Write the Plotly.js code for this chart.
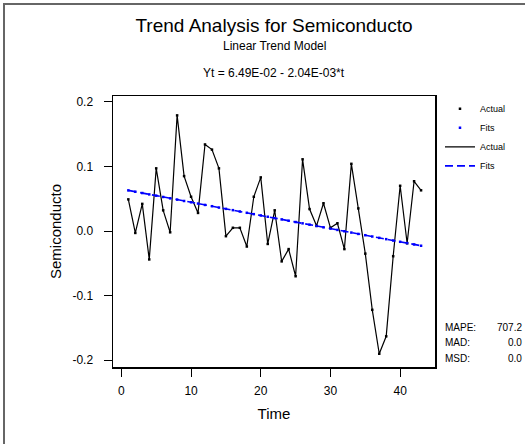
<!DOCTYPE html>
<html>
<head>
<meta charset="utf-8">
<script src="https://cdn.plot.ly/plotly-3.0.1.min.js"></script>
<style>
html,body{margin:0;padding:0;background:#fff;overflow:hidden;}
#chart{width:525px;height:444px;position:absolute;left:0;top:0;}
#frame{position:absolute;left:3px;top:3px;width:700px;height:700px;border-left:2px solid #666;border-top:2px solid #666;pointer-events:none;}
</style>
</head>
<body>
<div id="chart"></div>
<div id="frame"></div>
<script>
var timeIdx = [1,2,3,4,5,6,7,8,9,10,11,12,13,14,15,16,17,18,19,20,21,22,23,24,25,26,27,28,29,30,31,32,33,34,35,36,37,38,39,40,41,42,43];
var actual = [0.049,-0.003,0.042,-0.044,0.097,0.032,-0.002,0.179,0.085,0.053,0.028,0.134,0.126,0.097,-0.008,0.005,0.005,-0.024,0.053,0.083,-0.020,0.032,-0.047,-0.028,-0.070,0.111,0.034,0.008,0.043,0.005,0.012,-0.028,0.104,0.035,-0.035,-0.122,-0.190,-0.163,-0.039,0.070,-0.019,0.077,0.063];
var fits = [0.0629,0.0608,0.0588,0.0567,0.0547,0.0527,0.0506,0.0486,0.0465,0.0445,0.0425,0.0404,0.0384,0.0363,0.0343,0.0323,0.0302,0.0282,0.0261,0.0241,0.0221,0.0200,0.0180,0.0159,0.0139,0.0119,0.0098,0.0078,0.0057,0.0037,0.0017,-0.0004,-0.0024,-0.0045,-0.0065,-0.0085,-0.0106,-0.0126,-0.0147,-0.0167,-0.0187,-0.0208,-0.0228];
var xTicks = [0,10,20,30,40];
var yTicks = [-0.2,-0.1,0.0,0.1,0.2];
var yTickText = ['-0.2','-0.1','0.0','0.1','0.2'];
var statLabels = ['MAPE:','MAD:','MSD:'];
var statValues = ['707.2','0.0','0.0'];

var FONT = '"Liberation Sans Narrow","Arial Narrow","Liberation Sans",Arial,sans-serif';

var traces = [
  {x: timeIdx, y: actual, type:'scatter', mode:'lines', name:'Actual', legendrank:3,
   line:{color:'#000', width:1.2}},
  {x: timeIdx, y: fits, type:'scatter', mode:'lines', name:'Fits', legendrank:4,
   line:{color:'#0000ff', width:1.6, dash:'8px,4px'}},
  {x: timeIdx, y: actual, type:'scatter', mode:'markers', name:'Actual', legendrank:1,
   marker:{color:'#000', size:2.5, symbol:'square'}, cliponaxis:false},
  {x: timeIdx, y: fits, type:'scatter', mode:'markers', name:'Fits', legendrank:2,
   marker:{color:'#0000ff', size:2.5, symbol:'square'}, cliponaxis:false}
];

var statAnn = [];
for (var i = 0; i < statLabels.length; i++) {
  var yy = [0.1476, 0.0886, 0.0332][i];
  statAnn.push({xref:'paper', yref:'paper', x:1.025, y:yy, xanchor:'left', yanchor:'middle',
    text: statLabels[i], showarrow:false, font:{family:FONT, size:10, color:'#000'}});
  statAnn.push({xref:'paper', yref:'paper', x:1.2764, y:yy, xanchor:'right', yanchor:'middle',
    text: statValues[i], showarrow:false, font:{family:FONT, size:10, color:'#000'}});
}

var layout = {
  width:525, height:444,
  margin:{l:113, r:90, t:96, b:77},
  paper_bgcolor:'#fff', plot_bgcolor:'#fff',
  font:{family:FONT, color:'#000'},
  title:{text:'Trend Analysis for Semiconducto', font:{family:FONT, size:19, color:'#000'},
         x:274/525, xanchor:'center', xref:'container', y:1-25/444, yanchor:'middle', yref:'container'},
  xaxis:{range:[-1.2,45], tickvals:xTicks, ticks:'outside', ticklen:8, tickwidth:1, tickcolor:'#000',
         showline:true, linecolor:'#000', linewidth:1.5, mirror:true, showgrid:false, zeroline:false,
         ticklabelstandoff:4,
         tickfont:{family:FONT, size:12, color:'#000'},
         title:{text:'Time', font:{family:FONT, size:15, color:'#000'}, standoff:11}},
  yaxis:{range:[-0.2105,0.209], tickvals:yTicks, ticktext:yTickText, ticks:'outside', ticklen:8, tickwidth:1, tickcolor:'#000',
         showline:true, linecolor:'#000', linewidth:1.5, mirror:true, showgrid:false, zeroline:false,
         ticklabelstandoff:8,
         tickfont:{family:FONT, size:12, color:'#000'},
         title:{text:'Semiconducto', font:{family:FONT, size:15, color:'#000'}, standoff:7}},
  showlegend:true,
  legend:{x:1.0155, xanchor:'left', y:1.006, yanchor:'top', bgcolor:'rgba(0,0,0,0)',
          font:{family:FONT, size:9, color:'#000'}, tracegroupgap:0, traceorder:'normal'},
  annotations:[
    {xref:'paper', yref:'paper', x:0.5, y:1.1845, xanchor:'center', yanchor:'middle', showarrow:false,
     text:'Linear Trend Model', font:{family:FONT, size:12, color:'#000'}},
    {xref:'paper', yref:'paper', x:0.5, y:1.085, xanchor:'center', yanchor:'middle', showarrow:false,
     text:'Yt = 6.49E-02 - 2.04E-03*t', font:{family:FONT, size:12, color:'#000'}}
  ].concat(statAnn)
};

Plotly.newPlot('chart', traces, layout, {staticPlot:true, displayModeBar:false});
</script>
</body>
</html>
